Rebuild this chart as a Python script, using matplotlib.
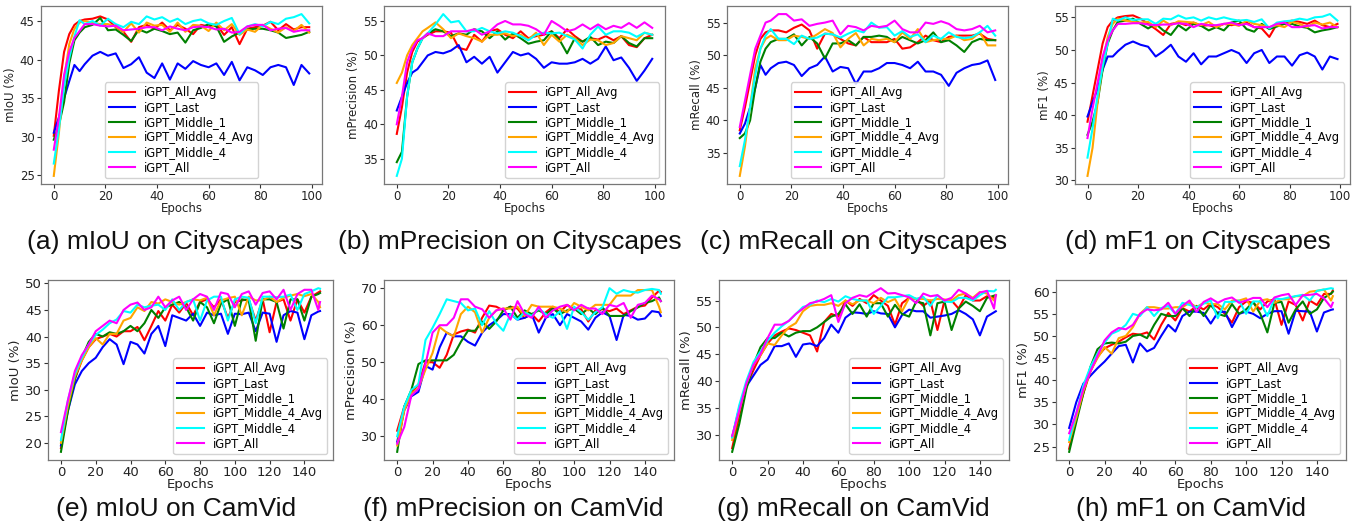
import matplotlib
matplotlib.use("Agg")
import matplotlib.pyplot as plt
from matplotlib.ticker import MultipleLocator

# ---------------- data ----------------
city_x = [0, 2, 4, 6, 8, 10, 12, 15, 18, 21, 24, 27, 30, 33, 36, 39, 42, 45, 48, 51,
          54, 57, 60, 63, 66, 69, 72, 75, 78, 81, 84, 87, 90, 93, 96, 99]
camvid_x = [0, 4, 8, 12, 16, 20, 24, 28, 32, 36, 40, 44, 48, 52, 56, 60, 64, 68, 72, 76,
            80, 84, 88, 92, 96, 100, 104, 108, 112, 116, 120, 124, 128, 132, 136, 140,
            144, 148, 149]

series_names = ["iGPT_All_Avg", "iGPT_Last", "iGPT_Middle_1",
                "iGPT_Middle_4_Avg", "iGPT_Middle_4", "iGPT_All"]
series_colors = ["red", "blue", "green", "orange", "cyan", "magenta"]

# (a) mIoU on Cityscapes
a_all_avg = [30.1,36,41,43.3,44.5,45,45.2,45.3,45.6,45.2,44.2,43.6,42.3,44.2,44.5,44,44.8,43.8,44.5,44,43.3,44.5,44.3,44.6,43.2,44.2,42,44,44.2,44.4,44.9,43.8,44.6,43.9,44.2,44.2]
a_last = [30.5,32.5,35,37.2,39.3,38.5,39.4,40.5,41,40.5,40.8,38.9,39.4,40.3,38.3,37.6,39.5,37.4,39.5,38.8,39.8,39.3,39,39.5,38,39.7,37.3,39,38.6,38,39,39.3,39,36.7,39.3,38.2]
a_mid1 = [29.6,31.5,34.5,39.5,42.5,43.5,44.2,44.5,45.4,43.8,43.9,43.2,42.4,43.9,43.5,44.0,43.7,43.3,43.5,42.2,43.8,44.1,44.6,44.3,42.3,43.0,43.5,43.9,44.0,44.0,43.8,43.5,42.8,43.0,43.2,43.6]
a_mid4_avg = [24.9,30.5,37.5,42,44,44.8,45.0,44.8,44.6,44.6,44.3,43.6,44.7,43.5,44.8,44.4,44.5,43.6,44.8,43.6,44.5,44.4,43.7,44.8,43.8,44.6,43.2,43.9,43.6,44.5,44.0,43.5,44.2,43.7,44.5,43.5]
a_mid4 = [26.5,31,36.5,40.2,43,45.1,44.6,45.0,44.4,45.3,44.6,44.2,44.9,44.6,45.6,45.2,45.5,44.9,45.3,44.6,45.0,45.2,44.7,44.5,45.0,45.4,43.3,44.3,44.6,44.3,44.9,44.6,45.3,45.5,45.9,44.7]
a_all = [28.3,32.5,38,41,42.8,43.7,44.6,44.6,44.4,44.3,44.4,43.8,43.9,44.0,44.2,44.2,43.8,44.3,44.0,43.8,44.2,44.3,44.2,43.9,44.0,43.5,43.6,44.3,44.5,44.5,43.8,44.0,44.1,43.6,43.8,43.8]

# (b) mPrecision on Cityscapes
b_all_avg = [38.6,42.5,47.5,50.5,52,52.5,53,53.5,53.5,53.3,51.1,50.8,53,52,53.5,53.8,53,52.5,53.5,52.5,52.8,53,53.5,52.5,53.8,52.8,52,52.5,52.3,52.8,52.2,52.8,51.5,51.2,52.5,53]
b_last = [42,44,46,47.5,48,49,50,50.5,50.3,50.7,51.5,49,49.8,48.8,49.8,47.5,49,50.5,50,50.3,49.5,48.2,49,48.8,48.8,49,49.5,48.8,49.5,51.3,49.3,49.7,48.2,46.3,47.8,49.5]
b_mid1 = [34.5,36,44,49,51,52.5,53.2,53.8,53.5,52.8,53.2,53,53.8,53.5,52.5,53.5,52.3,53.2,52.5,51.7,52,52.2,53.5,52.3,50.3,52.5,52,52.7,51.5,52,51.8,52.8,51.8,51.3,52.5,52.5]
b_mid4_avg = [46,47.5,50,51.5,52.5,53.5,54,54.8,53.8,52.5,53.2,52.8,52.5,52,53,53,53.2,52.8,53,52.3,53.3,51.5,53,52,53,52.5,51.5,52.3,52.2,51.5,51.8,52.8,52.5,52.2,53.3,53]
b_mid4 = [32.5,35,44,49,51,52.5,53.2,54.5,56,54.8,55,53.5,53.5,54,53.5,53.2,53.5,53.3,52.8,52.2,53,53.3,53.2,53.3,52.8,52.3,51,53,54.2,53,53.5,53.5,53.3,52.7,53.3,53]
b_all = [40,44,49,51,52.2,52.5,53.2,52.8,52.8,53.5,53.5,53.5,53.8,53,53.5,54.5,55,54.5,54.5,54.3,53.8,53,55,54.3,53.5,53.8,54.5,53.8,54.5,53.8,54.3,54,54.7,54,54.8,54]

# (c) mRecall on Cityscapes
c_all_avg = [38.5,42,46,50,52.5,53.5,53.8,53.8,53.5,54.2,54.7,53.8,51,53.3,53.2,52.5,51.8,51.5,52.8,52,52,52,52.5,51,51.2,52,53,52.3,52,52.8,53,53,53,53.3,52.5,52.3]
c_last = [38,39.5,42,45,48.5,47,48,48.8,49,48.5,46.8,48,48.5,49.8,47.5,48.2,48,45.6,47.5,47.5,48,48.8,48.8,48.5,48,49,47.5,47.5,47,45.3,47.3,48,48.5,48.7,49.2,46.2]
c_mid1 = [37.3,38,40,45,49,51,52,52.5,52.5,53.2,51.5,52.8,51.8,49.5,51.8,51.8,52.3,51.5,52.8,52.8,53,52.8,52,52.8,52.3,51.8,52.3,53.5,52,52.3,51.5,50.5,52,52.5,52.3,52.3]
c_mid4_avg = [31.5,36,42,48,51,52.5,53,52.3,52.3,53,52.8,52.5,53.2,54,53.4,51.2,52.5,53.4,51.5,52.5,52.3,52.5,52,53.5,52.5,54,52,52.3,52.5,52.5,53,52.3,52.5,53.5,51.5,51.5]
c_mid4 = [33,37,42,47,51,53,54,52.5,52.5,51.7,53,52.5,52.7,53.3,53.2,52.7,53.3,53.8,53.5,55,54.2,54.3,53,53.7,52.8,53.2,52,53,52.5,53.5,52.8,52.6,52.8,53.5,54.5,53]
c_all = [39,43,47,51,53,55,55.3,56.3,56.3,55.3,55.5,54.5,54.8,55,55.3,53.2,54.5,54.3,53.8,54.5,54.3,54.5,55.3,54,53.5,53.5,55,54.8,55.2,54.8,54,53.8,54,54.5,53.5,53.8]

# (d) mF1 on Cityscapes
d_all_avg = [39,43,47,51,53.5,54.5,55,55.2,55.3,54.8,54,53.2,52.3,54,54.2,53.8,54.2,53.7,53.8,53.5,54,53.8,54,54.2,53.5,53.3,52,54,54.2,54.5,54.3,54,54.5,53.8,53.5,54]
d_last = [39.8,42,44,47,49,49,49.8,50.8,51.3,50.8,50.5,49,49.8,50.8,49,48.2,49.5,47.8,49,49,49.5,50,49.5,48,49.5,50,48,49,49,47.6,49.2,49.6,49,47,49,48.6]
d_mid1 = [37,39,42,47,51,53,54.3,54.5,54.8,54,53.3,54,53,52.3,53.8,53,54,53.7,53,53.5,53,54.2,54.5,53.2,52.8,54,53.2,53.6,54,54,53.6,53.4,52.7,53,53.2,53.5]
d_mid4_avg = [30.7,35,42,48,52,54,54.8,54.5,54.3,54.2,54.3,53.5,54.5,53.8,54.4,54.3,54.2,53.8,54.3,53.5,54,54,53.7,54.5,54,53.8,53.5,53.8,53.5,54.3,54,53.5,54.2,53.9,54.2,53.5]
d_mid4 = [33.5,38,43,47.5,51,54.8,54.5,55,54.6,54.7,54.7,54,54.8,54.7,55.3,54.8,55,54.5,55,54.7,55,54.7,54.5,54.6,54.3,54.7,53.3,54.2,54.4,54.5,54.8,54.6,55,55.1,55.5,54.5]
d_all = [36.5,41,45,49,51.5,53,54,54,54.1,54.1,53.9,53.8,53.9,53.9,54.1,54,53.5,54,53.8,53.8,54,54.2,53.8,54,53.5,53.5,53.5,54,54.2,53.5,53.5,53.7,53.8,53.3,53.5,53.5]

# (e) mIoU on CamVid
e_all_avg = [19,27,32,35.5,38,39.5,40,40.5,40,41, 41,41.8,39.3,42,44.8,43,46,44.5,46.3,44, 46.5,47,45.5,47,43.5,46.5,46.8,47,43,47, 40.8,46.5,47,43,47,44.5,47.5,48.3,48.5]
e_last = [19.5,26,31,33.5,35,36,38,39.5,38.5,34.8, 39,38.5,36.8,40.5,42,38.2,44,43.5,43,44.3, 42,44.5,44,44.3,40.5,44.3,44.2,44.5,41,44.5, 44.3,39,44,44.8,44.5,39.5,44,44.7,44.8]
e_mid1 = [18.3,26,32,36,39,40.5,40,40.8,40.5,41, 42,41,42.5,45,43.5,45.5,46,46.5,45.5,43, 46.5,45.5,42.5,46.2,47,42,47,46.8,39.2,47, 47,46.5,41.5,47,47,43,47.5,48,48.2]
e_mid4_avg = [20,27,32.5,35.5,38,39.7,38.5,40.5,40.5,43, 43.5,45.5,44.8,46.5,46.2,47,46.5,46,46.5,47, 46.8,47.3,44,46.8,47.2,47.5,44,47.5,46.8,46.8, 47.5,46.5,47.3,47.7,48,47.6,48,46.5,45.5]
e_mid4 = [20.5,28,33,36,38.5,40.3,41.3,42.5,43.2,44.8, 44.5,46,45.5,45.8,46,45,47,45,46.5,47, 43,46.8,47.5,47.5,43,47,47.5,47.3,42.5,47.5, 47.5,47.4,47.5,47.9,45,48,48.5,49.1,49]
e_all = [22,28,33.5,36.5,38.5,41,42,43,42.5,45, 46,46.4,45,45.5,47.5,45.5,46.8,47.5,45,47, 48,47.5,45,48.3,48,45.5,48,48.5,46,48.2, 48.5,47,48.8,45,48,48.8,48.8,45,46.5]

# (f) mPrecision on CamVid
f_all_avg = [31.5,38,41.8,44,50,50,48.5,52,57.5,58.3, 58.8,58,62,65.3,65,64,65,64.5,62,63, 61,63.5,65,63.5,65.5,64.3,64.3,61,64,64.3, 63.8,64.5,63,64,65,65.3,67.5,69.3,69]
f_last = [28.5,37,40.8,42,49,48,54,58,57,57, 55.5,54.5,58,60,61.3,63,63,61.5,62,63, 58,62,63,60,63,62,61,58.8,62,63.5, 62.5,56,62.8,62.5,61.5,61.8,63.8,63.5,62.5]
f_mid1 = [25.8,38,42.5,49.5,50.5,50.5,50.5,50.5,52,55.5, 58.5,58.5,61,59,61,64,65,62,64,63, 64,63,64.5,63,64,64.5,63,64.5,63,64.8, 62.5,62.5,62.5,63.8,64.8,66,66.5,67.5,66.5]
f_mid4_avg = [27.5,37,41.5,43,48,52.5,59.5,58,57,63, 65,63.5,58,62,64,64.5,64.5,65,62.5,65.5, 65,65,65,64.5,63.5,66,65,64,65.5,65.5, 65.5,68,68,68,69.5,69.5,69.5,65,63.5]
f_mid4 = [30,38,42.5,44,56,59.3,63,67,66.5,66, 64,64.5,60,63.8,60.5,58.5,63,61.5,63.5,62.5, 64.5,63,62,63.8,59,65,63.5,61.5,63.5,64.8, 70,68.5,69.5,69,68.8,69.5,69.8,69.5,68.5]
f_all = [28,32.5,41,42.8,49.5,58,60,60,62,67, 67,65,64.3,62,64,64.5,61.5,66.5,63,62, 65,62,64,65,65.5,64,65.5,64.5,64.5,63, 65.5,65,66,62,65.5,66,68,67,66.5]

# (g) mRecall on CamVid
g_all_avg = [27.5,33.5,39,42,44.8,47,48.5,49.2,49.8,49.5, 49,48.5,45.5,51,52.5,52,55,54,55.3,54.5, 56,55,54,50.5,54.5,55.5,55.3,54,55,49.5, 55,55,53.5,56,55,55,55.8,55.5,56]
g_last = [29.5,35,39,41,43,44,46.5,46.5,47,44.5, 46.8,47,46.5,48,50.5,49,51.8,52.8,52.7,52.5, 53,52.6,52.5,50,52.3,53.3,53,53,51.8,52, 52.2,52.5,53.2,52.5,51.5,48.5,52,52.8,53]
g_mid1 = [26.8,32,38.5,43,46.3,48,48,49,48.3,49, 49.3,49.3,50,51,52,52.5,54.3,52.5,54.3,52, 54.5,54.5,52,54.2,52.5,52,54.8,54.5,48.5,54.5, 54.8,49.5,53.5,54.8,54,53,55.5,55.9,56]
g_mid4_avg = [29,34.5,39.5,43,44.8,47,46.7,48.5,50,50.8, 53,54,54.2,54.2,54.5,54,55,54.3,55,55, 54.5,55.5,54.7,55.3,53,55.5,55.3,55.3,55,55.3, 55.2,55,56,56.3,55.5,56.6,56.3,55,56]
g_mid4 = [29.5,35.5,40,43.5,45.5,47.5,49,50.2,51.2,52.5, 53.8,54.2,55,54.7,55.3,54.8,55.8,55.3,55,55, 52.5,54,55.6,55.6,55.8,56,55.3,55.7,54,56, 54.8,54.7,55.5,55.5,55,56,56.8,56.7,57]
g_all = [29.8,34.5,39.5,43,45,48,50.5,50.5,51.2,52.5, 53.5,54.5,54.8,55.3,56,51,54.5,55.5,56,55.7, 56.5,57.3,56.3,56.4,56,55.6,54.5,56.3,55.8,56, 55,55.5,57,56.3,55.3,56.5,56.8,53.5,56]

# (h) mF1 on CamVid
h_all_avg = [24.5,31.5,37,42,45.3,47.2,48,48.7,49.7,50.5, 50.3,50.8,49.2,52.5,55.2,53.5,56.3,55.5,56.8,56, 57.3,56.5,55,53,56.5,57.8,57.5,56,57.8,58.3, 52.5,57.8,57,53.5,58,57,59.5,59.5,60.3]
h_last = [29.2,35,39.2,41,42.7,44.2,46,47.7,48,44, 48.3,46.5,47.3,50,52.5,51,54.5,55.5,55.5,55.2, 52.8,55.3,55.5,52,55,55.5,55,54,55,55.6, 55.6,50.5,55.7,55.6,55.5,51,55.3,55.9,56]
h_mid1 = [23.8,30.5,37,43,47,48.3,48.5,48.3,48.7,50, 50.3,49.5,52.5,55,54.5,54.5,56.3,54.5,56.7,54.5, 57,55,54.5,57.2,55,56,57.7,55,50.8,57.5, 57.7,53,56,57.8,55,56,58.6,59.6,60]
h_mid4_avg = [26,31.5,37.5,42,45,47.5,46,49.5,50,52, 55,56.5,56.5,56.2,56.2,56.5,56.5,57.5,56.5,57.5, 57.2,57.2,56,58,58,58.5,55.5,58,58.3,57.5, 58.3,58.3,59,59,60,60.2,60.5,58,59]
h_mid4 = [26.5,32.5,38.8,43,46,48.5,50.5,51.2,52.5,55, 54.5,56.5,54.5,56.3,56.8,55,57.5,57,56.5,57.3, 58,54,57.7,57.7,58,55,57.8,57.8,54.5,58.5, 58.3,58.7,59,59.3,58,60.2,60.5,60.8,60.7]
h_all = [28,32.5,38,42,45.5,49,50.8,51.8,51.5,52.5, 55,56,55.8,56,57.5,55,56.8,58,55.5,57.7, 58.5,57.5,58.3,58.7,57.5,58,58.6,58.6,56.5,58.7, 59.2,59.5,57,59.2,59.3,59.5,58.5,56.5,57.5]

ylabels = ["mIoU (%)", "mPrecision (%)", "mRecall (%)", "mF1 (%)"]
captions_top = ["(a) mIoU on Cityscapes", "(b) mPrecision on Cityscapes",
                "(c) mRecall on Cityscapes", "(d) mF1 on Cityscapes"]
captions_bot = ["(e) mIoU on CamVid", "(f) mPrecision on CamVid",
                "(g) mRecall on CamVid", "(h) mF1 on CamVid"]

# ---------------- layout ----------------
W, H = 1369, 525
fig = plt.figure(figsize=(W / 100, H / 100), dpi=100)

def rect(l, r, t, b):
    return [l / W, (H - b) / H, (r - l) / W, (b - t) / H]

panels = [
    dict(r=rect(41, 322, 6, 184), x=city_x,
         ys=[a_all_avg, a_last, a_mid1, a_mid4_avg, a_mid4, a_all], yl=ylabels[0],
         loc="lower center", ystep=5, cap=captions_top[0], cx=165, cy=242),
    dict(r=rect(384, 665, 6, 184), x=city_x,
         ys=[b_all_avg, b_last, b_mid1, b_mid4_avg, b_mid4, b_all], yl=ylabels[1],
         loc="lower right", ystep=5, cap=captions_top[1], cx=510, cy=242),
    dict(r=rect(727, 1008, 6, 184), x=city_x,
         ys=[c_all_avg, c_last, c_mid1, c_mid4_avg, c_mid4, c_all], yl=ylabels[2],
         loc="lower center", ystep=5, cap=captions_top[2], cx=854, cy=242),
    dict(r=rect(1075, 1350, 6, 184), x=city_x,
         ys=[d_all_avg, d_last, d_mid1, d_mid4_avg, d_mid4, d_all], yl=ylabels[3],
         loc="lower right", ystep=5, cap=captions_top[3], cx=1198, cy=242),
    dict(r=rect(48, 333, 280, 460), x=camvid_x,
         ys=[e_all_avg, e_last, e_mid1, e_mid4_avg, e_mid4, e_all], yl=ylabels[0],
         loc="lower right", ystep=5, cap=captions_bot[0], cx=176, cy=509),
    dict(r=rect(384, 674, 280, 460), x=camvid_x,
         ys=[f_all_avg, f_last, f_mid1, f_mid4_avg, f_mid4, f_all], yl=ylabels[1],
         loc="lower right", ystep=10, cap=captions_bot[1], cx=513, cy=509),
    dict(r=rect(719, 1009, 280, 460), x=camvid_x,
         ys=[g_all_avg, g_last, g_mid1, g_mid4_avg, g_mid4, g_all], yl=ylabels[2],
         loc="lower right", ystep=5, cap=captions_bot[2], cx=853, cy=509),
    dict(r=rect(1056, 1346, 280, 460), x=camvid_x,
         ys=[h_all_avg, h_last, h_mid1, h_mid4_avg, h_mid4, h_all], yl=ylabels[3],
         loc="lower right", ystep=5, cap=captions_bot[3], cx=1191, cy=509),
]

cap_font = ["Liberation Sans", "DejaVu Sans"]

for i, p in enumerate(panels):
    ax = fig.add_axes(p["r"])
    for ys, name, col in zip(p["ys"], series_names, series_colors):
        ax.plot(p["x"], ys, color=col, lw=1.5, label=name)
    ax.xaxis.set_major_locator(MultipleLocator(20))
    ax.yaxis.set_major_locator(MultipleLocator(p["ystep"]))
    fs = 8.5 if i < 4 else 9.5
    ax.tick_params(labelsize=fs, length=3, width=0.8, pad=1.5, colors="#333333",
                   labelcolor="#222222")
    for s in ax.spines.values():
        s.set_color("#777777")
        s.set_linewidth(0.9)
    ax.set_xlabel("Epochs", fontsize=fs, labelpad=-1, color="#222222")
    ax.set_ylabel(p["yl"], fontsize=fs, labelpad=2, color="#222222")
    ax.legend(loc=p["loc"], fontsize=8.3, labelspacing=0.17, handlelength=2.3,
              borderpad=0.35, framealpha=0.85, edgecolor="#cccccc")
    fig.text(p["cx"] / W, 1 - p["cy"] / H, p["cap"], ha="center", va="center",
             fontsize=19, family=cap_font, color="#111111")

fig.savefig("out.png", dpi=100)
